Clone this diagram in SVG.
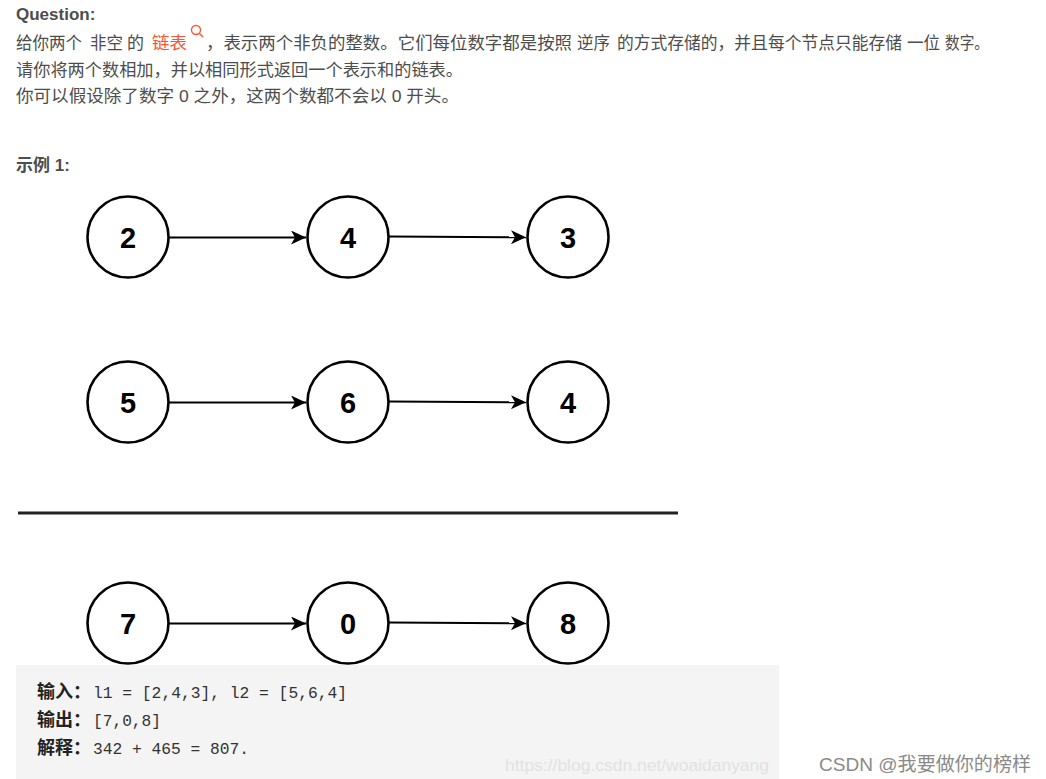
<svg xmlns="http://www.w3.org/2000/svg" width="1046" height="779" viewBox="0 0 1046 779">
<defs>
<style>
.txt{font-family:"Liberation Sans","Noto Sans CJK SC",sans-serif;font-size:17px;fill:#4d4d4d}
.b{font-weight:bold}
.node circle{fill:#fff;stroke:#000;stroke-width:2.6}
.node text{font-family:"Liberation Sans",Arial,sans-serif;font-size:29px;font-weight:bold;fill:#000;text-anchor:middle}
.edge{stroke:#000;stroke-width:2;fill:none}
.code{font-family:"Liberation Mono","DejaVu Sans Mono",monospace;font-size:16px;fill:#333}
.codecn{font-family:"Noto Sans CJK SC",sans-serif;font-size:18px;font-weight:bold;fill:#222}
</style>
<marker id="arr" markerWidth="16" markerHeight="14" viewBox="0 0 16 14" refX="15" refY="7" orient="auto" markerUnits="userSpaceOnUse">
<path d="M0,0 L15,7 L0,14 L4,7 Z" fill="#000"/>
</marker>
</defs>
<rect width="1046" height="779" fill="#fff"/>

<g id="header">
<text class="txt b" x="16" y="20">Question:</text>
<text class="txt" y="49"><tspan x="16" textLength="66" lengthAdjust="spacingAndGlyphs">给你两个</tspan><tspan x="90" textLength="33" lengthAdjust="spacingAndGlyphs">非空</tspan><tspan x="127">的</tspan><tspan x="152" fill="#fc5531" textLength="35" lengthAdjust="spacingAndGlyphs">链表</tspan></text>
<g fill="none" stroke="#fc5531" stroke-width="1.4"><circle cx="196" cy="30" r="4.5"/><line x1="199.5" y1="33.5" x2="203" y2="37"/></g>
<text class="txt" y="49"><tspan x="206" textLength="366" lengthAdjust="spacingAndGlyphs">，表示两个非负的整数。它们每位数字都是按照</tspan><tspan x="577" textLength="33" lengthAdjust="spacingAndGlyphs">逆序</tspan><tspan x="617" textLength="285" lengthAdjust="spacingAndGlyphs">的方式存储的，并且每个节点只能存储</tspan><tspan x="907" textLength="33" lengthAdjust="spacingAndGlyphs">一位</tspan><tspan x="945" textLength="44" lengthAdjust="spacingAndGlyphs">数字。</tspan></text>
<text class="txt" x="16" y="76" textLength="447" lengthAdjust="spacingAndGlyphs">请你将两个数相加，并以相同形式返回一个表示和的链表。</text>
<text class="txt" x="16" y="102" textLength="443" lengthAdjust="spacingAndGlyphs">你可以假设除了数字 0 之外，这两个数都不会以 0 开头。</text>
<text class="txt b" x="16" y="171">示例 1:</text>
</g>

<g id="connectors">
<line class="edge" x1="169" y1="237.5" x2="306" y2="237.5" marker-end="url(#arr)"/>
<line class="edge" x1="389" y1="236.5" x2="526" y2="237.3" marker-end="url(#arr)"/>
<line class="edge" x1="169" y1="402.5" x2="306" y2="402.5" marker-end="url(#arr)"/>
<line class="edge" x1="389" y1="401.5" x2="526" y2="402.3" marker-end="url(#arr)"/>
<line class="edge" x1="169" y1="623.5" x2="306" y2="623.5" marker-end="url(#arr)"/>
<line class="edge" x1="389" y1="622.5" x2="526" y2="623.3" marker-end="url(#arr)"/>
</g>

<g id="n2" class="node"><circle cx="128" cy="237" r="40.5"/><text x="128" y="248">2</text></g>
<g id="n4a" class="node"><circle cx="348" cy="237" r="40.5"/><text x="348" y="248">4</text></g>
<g id="n3" class="node"><circle cx="568" cy="237" r="40.5"/><text x="568" y="248">3</text></g>
<g id="n5" class="node"><circle cx="128" cy="402" r="40.5"/><text x="128" y="413">5</text></g>
<g id="n6" class="node"><circle cx="348" cy="402" r="40.5"/><text x="348" y="413">6</text></g>
<g id="n4b" class="node"><circle cx="568" cy="402" r="40.5"/><text x="568" y="413">4</text></g>
<g id="n7" class="node"><circle cx="128" cy="623" r="40.5"/><text x="128" y="634">7</text></g>
<g id="n0" class="node"><circle cx="348" cy="623" r="40.5"/><text x="348" y="634">0</text></g>
<g id="n8" class="node"><circle cx="568" cy="623" r="40.5"/><text x="568" y="634">8</text></g>

<line id="separator" x1="18" y1="513" x2="678" y2="513" stroke="#222" stroke-width="3"/>

<g id="codebox">
<rect x="16" y="665" width="763" height="114" fill="#f4f4f4"/>
<text class="codecn" x="37" y="698">输入：</text>
<text class="code" x="93" y="698" textLength="254" lengthAdjust="spacingAndGlyphs">l1 = [2,4,3], l2 = [5,6,4]</text>
<text class="codecn" x="37" y="726">输出：</text>
<text class="code" x="93" y="726" textLength="68" lengthAdjust="spacingAndGlyphs">[7,0,8]</text>
<text class="codecn" x="37" y="754">解释：</text>
<text class="code" x="93" y="754" textLength="156" lengthAdjust="spacingAndGlyphs">342 + 465 = 807.</text>
<text x="505" y="771" font-family="Liberation Sans,sans-serif" font-size="17" fill="#e2e2e2" textLength="264" lengthAdjust="spacingAndGlyphs">https://blog.csdn.net/woaidanyang</text>
</g>
<text x="819" y="771" font-family="Liberation Sans,Noto Sans CJK SC,sans-serif" font-size="19" fill="#8a8a8a" textLength="212" lengthAdjust="spacingAndGlyphs">CSDN @我要做你的榜样</text>
</svg>
